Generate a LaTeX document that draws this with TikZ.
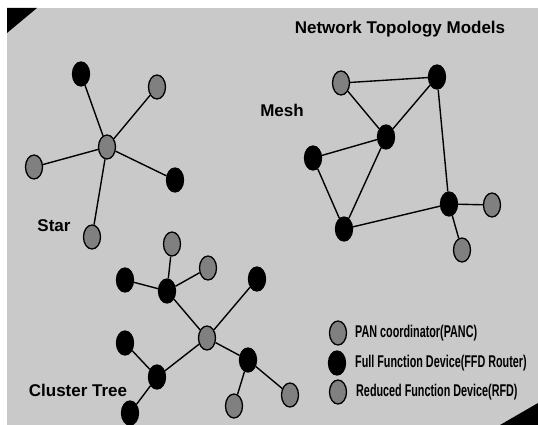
\documentclass[tikz,border=0pt]{standalone}
\usepackage{fontspec}
\setmainfont{Liberation Sans}
\usetikzlibrary{shapes.geometric}
\definecolor{paper}{HTML}{C9C9C9}
\definecolor{dotgray}{HTML}{808080}
\tikzset{
  dev/.style={ellipse, inner sep=0pt, minimum width=17pt, minimum height=24pt, line width=1.3pt, draw=black},
  ffd/.style={dev, fill=black},
  rfd/.style={dev, fill=dotgray},
  link/.style={line width=1.4pt, black},
  heading/.style={font=\fontsize{17}{17}\selectfont\bfseries, inner sep=0pt},
  legtext/.style={font=\fontsize{17}{17}\selectfont\bfseries, inner sep=0pt, anchor=west}
}
\newcommand{\narrow}[1]{\scalebox{0.635}[1]{#1}}
\begin{document}
\begin{tikzpicture}[x=1pt, y=-1pt]
\useasboundingbox (0,0) rectangle (538,425);
\fill[white] (0,0) rectangle (538,425);
\fill[paper] (7,8) rectangle (538,425);
% corner marks
\fill[black] (7,8) -- (37,8) -- (7,33) -- cycle;
\fill[black] (500,425) -- (538,403) -- (538,425) -- cycle;

% titles
\node[heading] (title) at (400,29) {Network Topology Models};
\node[heading] (lstar) at (54,226) {Star};
\node[heading] (lmesh) at (282,110) {Mesh};
\node[heading] (ltree) at (78,390) {Cluster Tree};

% star
\node[rfd] (sc) at (107,147) {};
\node[ffd] (s1) at (81,74) {};
\node[rfd] (s2) at (157,87) {};
\node[rfd] (s3) at (34,167) {};
\node[ffd] (s4) at (175,180) {};
\node[rfd] (s5) at (92,237) {};
\foreach \n in {s1,s2,s3,s4,s5} \draw[link] (sc) -- (\n);

% mesh
\node[rfd] (m1) at (341,83) {};
\node[ffd] (m2) at (437,77) {};
\node[ffd] (m3) at (386,137) {};
\node[ffd] (m4) at (313,158) {};
\node[ffd] (m5) at (344,229) {};
\node[ffd] (m6) at (449,204) {};
\node[rfd] (m7) at (492,205) {};
\node[rfd] (m8) at (462,250) {};
\draw[link] (m1) -- (m2);
\draw[link] (m1) -- (m3);
\draw[link] (m3) -- (m2);
\draw[link] (m3) -- (m4);
\draw[link] (m4) -- (m5);
\draw[link] (m3) -- (m5);
\draw[link] (m5) -- (m6);
\draw[link] (m2) -- (m6);
\draw[link] (m6) -- (m7);
\draw[link] (m6) -- (m8);

% cluster tree
\node[rfd] (tc) at (207,338) {};
\node[ffd] (ta) at (167,291) {};
\node[rfd] (ta1) at (172,244) {};
\node[rfd] (ta2) at (208,268) {};
\node[ffd] (ta3) at (125,280) {};
\node[ffd] (tb) at (257,279) {};
\node[ffd] (td) at (157,377) {};
\node[ffd] (td1) at (125,343) {};
\node[ffd] (td2) at (130,413) {};
\node[ffd] (te) at (248,360) {};
\node[rfd] (te1) at (234,406) {};
\node[rfd] (te2) at (290,395) {};
\draw[link] (ta) -- (ta1);
\draw[link] (ta) -- (ta2);
\draw[link] (ta) -- (ta3);
\draw[link] (tc) -- (ta);
\draw[link] (tc) -- (tb);
\draw[link] (tc) -- (td);
\draw[link] (tc) -- (te);
\draw[link] (td) -- (td1);
\draw[link] (td) -- (td2);
\draw[link] (te) -- (te1);
\draw[link] (te) -- (te2);

% legend
\node[rfd] (k1) at (338,333) {};
\node[ffd] (k2) at (337,363) {};
\node[rfd] (k3) at (338,392) {};
\node[legtext] (k1t) at (355,333) {\narrow{PAN coordinator(PANC)}};
\node[legtext] (k2t) at (355,363) {\narrow{Full Function Device(FFD Router)}};
\node[legtext] (k3t) at (356,392) {\narrow{Reduced Function Device(RFD)}};
\end{tikzpicture}
\end{document}
